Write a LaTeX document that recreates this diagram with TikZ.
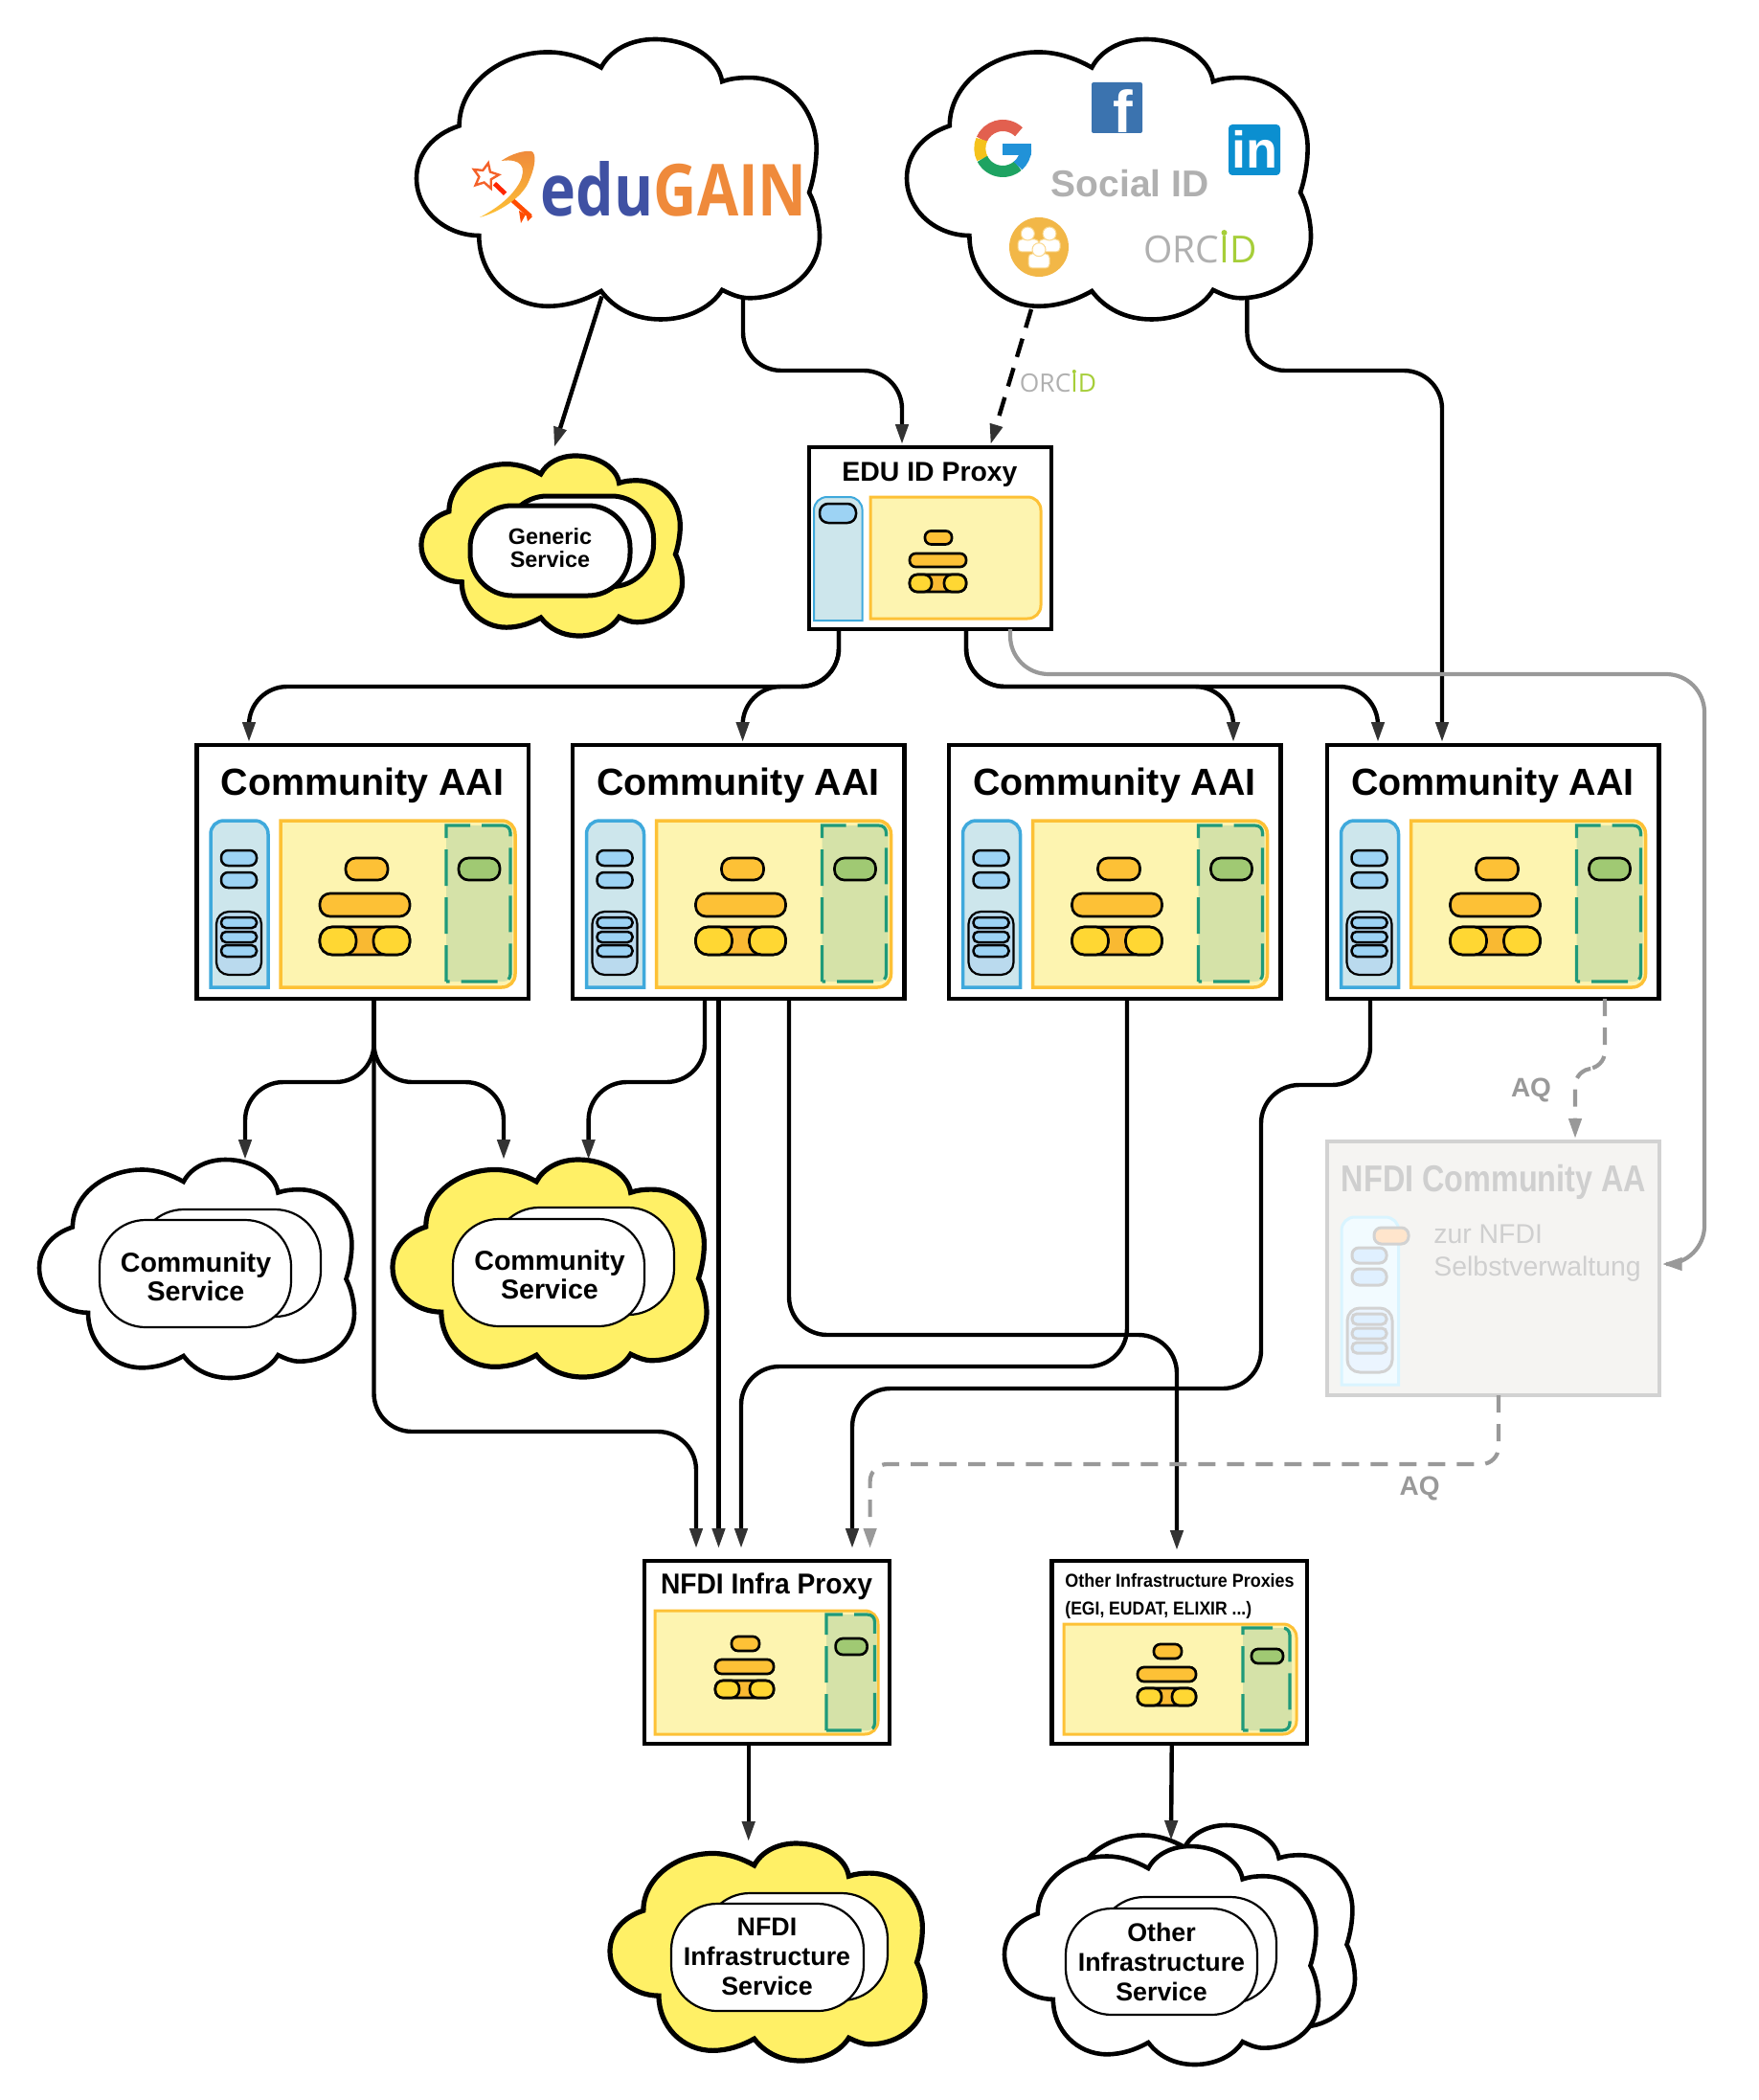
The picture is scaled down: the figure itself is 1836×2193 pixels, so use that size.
\documentclass[tikz,border=0pt]{standalone}
\usepackage{fontspec}
\setmainfont{Liberation Sans}
\newfontfamily\opensans{Open Sans}
\usetikzlibrary{arrows.meta,shapes.geometric}
\definecolor{cblue}{HTML}{3FA9DC}\definecolor{cbluefill}{HTML}{CDE6EC}\definecolor{cbluedeep}{HTML}{BADAEE}
\definecolor{cpill}{HTML}{9DD3F4}\definecolor{cyel}{HTML}{FDC136}\definecolor{cyelfill}{HTML}{FDF4B0}
\definecolor{ccyl}{HTML}{FFD733}\definecolor{cmid}{HTML}{F9B932}\definecolor{cgrn}{HTML}{1F9A7A}
\definecolor{cgrnfill}{HTML}{D5E2A8}\definecolor{cgrnpill}{HTML}{A0C973}\definecolor{ccloud}{HTML}{FFF066}
\definecolor{cfade}{HTML}{D2D2D2}\definecolor{cfadefill}{HTML}{F5F4F2}\definecolor{cfadetext}{HTML}{CFCFCF}
\definecolor{cgrey}{HTML}{999999}\definecolor{csocial}{HTML}{B0B0B0}\definecolor{corc}{HTML}{A6CE39}
\definecolor{cedu}{HTML}{3F51A3}\definecolor{cgain}{HTML}{EF8A3B}
\tikzset{
  ghost/.style={anchor=north west,inner sep=0pt,outer sep=0pt},
  framebox/.style={ghost,draw=black,line width=2.4pt,fill=white},
  fadebox/.style={ghost,draw=cfade,line width=2.3pt,fill=cfadefill},
  conn/.style={line width=2.2pt,rounded corners=20pt,-{Stealth[length=10.5pt,width=6.5pt,inset=0pt,color=black!80]}},
  dconn/.style={conn,line width=2.2pt,dash pattern=on 10pt off 6pt},
  gconn/.style={conn,line width=2.1pt,draw=cgrey,-{Stealth[length=10.5pt,width=6.5pt,inset=0pt,color=cgrey]}},
  gdconn/.style={gconn,dash pattern=on 9pt off 6pt,rounded corners=9pt},
  pblue/.style={draw=black,fill=cpill,line width=1.25pt},
  pyel/.style={draw=black,fill=cyel,line width=1.35pt},
  pcyl/.style={draw=black,fill=ccyl,line width=1.35pt},
  pmid/.style={draw=black,fill=cmid,line width=1.35pt},
  pgrn/.style={draw=black,fill=cgrnpill,line width=1.35pt},
  pfade/.style={draw=cfade,fill=#1,line width=1.5pt},
  cloudw/.style={draw=black,fill=white,line width=2.3pt},
  cloudy/.style={draw=black,fill=ccloud,line width=2.6pt},
  docthin/.style={ghost,draw=black,fill=white,line width=1.1pt,rounded corners=24pt},
  docthick/.style={ghost,draw=black,fill=white,line width=2.5pt,rounded corners=22pt},
  svctext/.style={inner sep=0pt,align=center,font=\fontsize{14.3}{15}\selectfont\bfseries},
  svcsmall/.style={inner sep=0pt,align=center,font=\fontsize{11.7}{12}\selectfont\bfseries},
  svcwide/.style={inner sep=0pt,align=center,font=\fontsize{13.4}{15.5}\selectfont\bfseries},
  title/.style={inner sep=0pt,anchor=base,font=\fontsize{19.7}{20}\selectfont\bfseries},
  aqlabel/.style={inner sep=0pt,text=cgrey,font=\fontsize{14}{15}\selectfont\bfseries},
}
% pill: x1 y1 x2 y2 style
\newcommand\pill[5]{%
  \pgfmathsetmacro\prad{min((#3)-(#1),(#4)-(#2))*0.45*0.5}%
  \draw[#5,rounded corners=\prad pt] (#1,#2) rectangle (#3,#4);}
\newcommand\framenode[6]{\node[#6,minimum width={(#4-#2)*0.5pt},minimum height={(#5-#3)*0.5pt}] (#1) at (#2,#3) {};}
% cloud: name x1 y1 x2 y2 style
\newcommand\cloudat[6]{%
  \node[ghost,minimum width={(#4-#2)*0.5pt},minimum height={(#5-#3)*0.5pt}] (#1) at (#2,#3) {};
  \pgfmathsetmacro\cw{(#4-#2)*0.5}\pgfmathsetmacro\ch{(#5-#3)*0.5}%
  \draw[#6,shift={(#2,#3)},x=\cw pt,y=-\ch pt]
   (.106,.309) .. controls (.106,.16) and (.21,.046) .. (.326,.046) .. controls (.375,.046) and (.42,.07) .. (.458,.101)
   .. controls (.48,.04) and (.53,0) .. (.591,0) .. controls (.68,0) and (.75,.07) .. (.758,.151)
   .. controls (.78,.14) and (.80,.137) .. (.826,.137) .. controls (.92,.137) and (.992,.25) .. (.992,.389) .. controls (.992,.44) and (.985,.50) .. (.974,.547)
   .. controls (.99,.59) and (1,.65) .. (1,.705) .. controls (1,.83) and (.92,.924) .. (.826,.924) .. controls (.80,.924) and (.78,.91) .. (.758,.895)
   .. controls (.73,.96) and (.67,1) .. (.606,1) .. controls (.54,1) and (.49,.96) .. (.458,.899)
   .. controls (.42,.93) and (.375,.953) .. (.326,.953) .. controls (.23,.953) and (.155,.84) .. (.155,.701)
   .. controls (.07,.70) and (0,.61) .. (0,.496) .. controls (0,.41) and (.04,.34) .. (.106,.309) -- cycle;}
% panels: x1 y1 x2 y2 style fill
\newcommand\leftpanel[6]{\draw[#5,fill=#6] (#1,#4) -- (#1,#2+14) .. controls (#1,#2+6) and (#1+6,#2) .. (#1+14,#2) -- (#3-14,#2) .. controls (#3-6,#2) and (#3,#2+6) .. (#3,#2+14) -- (#3,#4) -- cycle;}
\newcommand\rightpanel[6]{\draw[#5,fill=#6] (#1,#2) -- (#3-14,#2) .. controls (#3-6,#2) and (#3,#2+6) .. (#3,#2+14) -- (#3,#4-14) .. controls (#3,#4-6) and (#3-6,#4) .. (#3-14,#4) -- (#1,#4) -- cycle;}
\newcommand\greenpanel[4]{%
  \fill[cgrnfill] (#1,#2) -- (#3-8,#2) .. controls (#3-3,#2) and (#3+2,#2+3) .. (#3+2,#2+8) -- (#3+2,#4-8) .. controls (#3+2,#4-3) and (#3-3,#4) .. (#3-8,#4) -- (#1,#4) -- cycle;
  \draw[cgrn,line width=1.6pt,dash pattern=on 19pt off 6pt] (#1,#4) -- (#1,#2) -- (#3-8,#2) .. controls (#3-3,#2) and (#3,#2+3) .. (#3,#2+8) -- (#3,#4-8) .. controls (#3,#4-3) and (#3-3,#4) .. (#3-8,#4) -- (#1,#4);}
% cylinder x1 y1 x2 y2 endwidth
\newcommand\cyl[5]{%
  \pill{#1}{#2}{#3}{#4}{pmid}
  \pill{#1}{#2}{#1+#5}{#4}{pcyl}
  \pill{#3-#5}{#2}{#3}{#4}{pcyl}}
\newcommand\aaipanel{%
  \leftpanel{220}{857}{280}{1031}{draw=cblue,line width=1.75pt}{cbluefill}
  \rightpanel{293}{857}{538}{1031}{draw=cyel,line width=1.75pt}{cyelfill}
  \greenpanel{466}{862}{533}{1025}
  \pill{231}{888}{268}{904}{pblue}
  \pill{231}{911}{268}{927}{pblue}
  \draw[draw=black,fill=cbluedeep,line width=1.1pt,rounded corners=6.5pt] (226,952) rectangle (273,1018);
  \pill{231}{958}{268}{969}{pblue}
  \pill{231}{973}{268}{984}{pblue}
  \pill{231}{987}{268}{999}{pblue}
  \pill{361}{896}{405}{919}{pyel}
  \pill{334}{933}{428}{957}{pyel}
  \cyl{334}{968}{428}{997}{38}
  \pill{479}{896}{522}{919}{pgrn}}
\newcommand\miniproxy[2]{%
  \begin{scope}[shift={(#1,#2)}]
  \pill{764}{1709}{793}{1724}{pyel}
  \pill{747}{1733}{808}{1748}{pyel}
  \cyl{747}{1755}{808}{1773}{25}
  \end{scope}}
\begin{document}
\begin{tikzpicture}[x=0.5pt,y=-0.5pt]
\path[use as bounding box] (0,0) rectangle (1836,2193);
% ---------- clouds
\cloudat{edugain}{435}{41}{856}{333.5}{cloudw}
\cloudat{social}{947}{41}{1369}{333.5}{cloudw}
\cloudat{genericc}{440}{476}{712.5}{664}{cloudy}
\cloudat{csw}{41}{1211}{370}{1439}{cloudw}
\cloudat{csy}{410}{1211}{738}{1438}{cloudy}
\cloudat{nfdic}{637}{1925}{966}{2152}{cloudy}
\cloudat{otherb}{1087}{1906}{1415}{2134}{cloudw}
\cloudat{otherc}{1049}{1928}{1377}{2156}{cloudw}
% ---------- eduGAIN logo
\node[anchor=base west,inner sep=0pt] (edutext) at (564.5,226)
  {\scalebox{.835}[1]{\fontsize{37.5}{38}\opensans\bfseries\textcolor{cedu}{edu}\textcolor{cgain}{GAIN}}};
\draw[line width=2.4pt,color=red!70!orange] (516.5,191.7) -- (527.6,202.3);
\draw[line width=2.4pt,color=orange!60!red] (534,208) -- (554,226);
\fill[orange!60!red] (542,220) -- (549,224) -- (544,233) -- cycle;
\fill[orange!60!red] (549,222) -- (556,226) -- (551,231) -- cycle;
\node[star,star points=5,star point ratio=2.1,draw=cgain!70!red,fill=white,line width=1.2pt,minimum size=14pt,inner sep=0pt,rotate=-12] (wandstar) at (507,184) {};
\path[top color=cgain,bottom color=cyel,draw=none] (523.5,168) .. controls (535,160) and (548,157) .. (555,158) .. controls (560,160) and (560,172) .. (552,190) .. controls (545,207) and (520,222) .. (501,227) .. controls (520,217) and (535,205) .. (543,190) .. controls (550,175) and (545,165) .. (523.5,168) -- cycle;
% ---------- social logos
\node[ghost,fill={rgb,255:red,59;green,115;blue,175},rounded corners=1pt,minimum width=26.5pt,minimum height=26.5pt] (fbbox) at (1140,86) {};
\node[anchor=base,inner sep=0pt,text=white,font=\fontsize{31}{31}\selectfont\bfseries] (fbf) at (1173,139) {f};
\node[ghost,fill={rgb,255:red,11;green,143;blue,208},rounded corners=2pt,minimum width=27pt,minimum height=26.5pt] (libox) at (1283,130) {};
\node[anchor=base,inner sep=0pt,text=white,font=\fontsize{27}{27}\selectfont\bfseries] (litext) at (1310.5,176) {in};
\node[anchor=base,inner sep=0pt,text=csocial,font=\fontsize{19.5}{20}\selectfont\bfseries] (socialid) at (1180,206) {Social ID};
\begin{scope}[shift={(1047.3,155)},y=0.5pt,line width=6pt]
  \draw[color={rgb,255:red,226;green,96;blue,79}] (46:24) arc[start angle=46,end angle=157,radius=24];
  \draw[color={rgb,255:red,245;green,194;blue,27}] (157:24) arc[start angle=157,end angle=207,radius=24];
  \draw[color={rgb,255:red,30;green,163;blue,98}] (207:24) arc[start angle=207,end angle=311,radius=24];
  \draw[color={rgb,255:red,33;green,146;blue,216}] (311:24) arc[start angle=311,end angle=358,radius=24];
  \fill[color={rgb,255:red,33;green,146;blue,216}] (0,5) rectangle (30,-7);
\end{scope}
\node[circle,fill={rgb,255:red,242;green,183;blue,71},minimum size=31pt,inner sep=0pt] (groupicon) at (1085,258) {};
\begin{scope}[fill=white,draw={rgb,255:red,250;green,215;blue,140},line width=.5pt]
  \filldraw[rounded corners=2pt] (1063,250) rectangle (1085,263);
  \filldraw (1073.3,244) circle (7);
  \filldraw[rounded corners=2pt] (1085,250) rectangle (1107,263);
  \filldraw (1096,244) circle (7);
  \filldraw[rounded corners=2pt] (1074,265) rectangle (1096,280);
  \filldraw (1085,260.7) circle (7);
\end{scope}
\node[anchor=base west,inner sep=0pt,font=\fontsize{19.5}{20}\opensans] (orcid1) at (1194,275) {\textcolor{csocial}{ORC}\textcolor{corc}{ID}};
\fill[corc] (1278.5,243) circle (3);
\node[anchor=base west,inner sep=0pt,font=\fontsize{13.2}{14}\opensans] (orcid2) at (1064.5,409) {\textcolor{csocial}{ORC}\textcolor{corc}{ID}};
\fill[corc] (1121.8,388) circle (2);
% ---------- services
\node[docthick,minimum width=77.5pt,minimum height=47.3pt] (genericb) at (527.5,518) {};
\node[docthick,minimum width=83.5pt,minimum height=47pt] (generic) at (491,528) {};
\node[svcsmall] (generict) at (574.5,572.5) {Generic\\Service};
\node[docthin,minimum width=95.5pt,minimum height=56pt] (cswb) at (144,1263) {};
\node[docthin,minimum width=100pt,minimum height=56pt] (cswf) at (104,1274) {};
\node[svctext] (cswt) at (204.5,1333) {Community\\Service};
\node[docthin,minimum width=94.5pt,minimum height=56pt] (csyb) at (515,1261) {};
\node[docthin,minimum width=100pt,minimum height=56pt] (csyf) at (473,1273) {};
\node[svctext] (csyt) at (574,1331) {Community\\Service};
\node[docthin,minimum width=96pt,minimum height=56pt] (nfdib) at (735,1977) {};
\node[docthin,minimum width=100.5pt,minimum height=56pt] (nfdif) at (701,1988) {};
\node[svcwide] (nfdit) at (801,2043) {NFDI\\Infrastructure\\Service};
\node[docthin,minimum width=93pt,minimum height=55.5pt] (othb) at (1147,1981) {};
\node[docthin,minimum width=100pt,minimum height=55.5pt] (othf) at (1113,1993) {};
\node[svcwide] (otht) at (1213,2049) {Other\\Infrastructure\\Service};
% ---------- EDU ID proxy
\framenode{edu}{845}{467}{1098}{657}{framebox}
\node[anchor=base,inner sep=0pt,font=\fontsize{14.2}{15}\selectfont\bfseries] (edutitle) at (971,502) {EDU ID Proxy};
\leftpanel{850}{519}{900.6}{648}{draw=cblue,line width=1pt}{cbluefill}
\rightpanel{909}{519}{1087}{646}{draw=cyel,line width=1.5pt}{cyelfill}
\pill{856}{526}{894}{546}{pblue}
\pill{966}{554.5}{994}{568.4}{pyel}
\pill{950}{578}{1009}{592}{pyel}
\cyl{950}{600}{1009}{618}{23}
% ---------- Community AAI boxes
\framenode{aaia}{205.5}{778}{552}{1043}{framebox}
\framenode{aaib}{598}{778}{944.5}{1043}{framebox}
\framenode{aaic}{991}{778}{1337.5}{1043}{framebox}
\framenode{aaid}{1386}{778}{1732.5}{1043}{framebox}
\node[title] (ta) at (378.5,830) {Community AAI};
\node[title] (tb) at (771,830) {Community AAI};
\node[title] (tc) at (1164,830) {Community AAI};
\node[title] (td) at (1559,830) {Community AAI};
\aaipanel
\begin{scope}[shift={(392.5,0)}]\aaipanel\end{scope}
\begin{scope}[shift={(785.5,0)}]\aaipanel\end{scope}
\begin{scope}[shift={(1180.5,0)}]\aaipanel\end{scope}
% ---------- NFDI community AA
\framenode{nca}{1386}{1192}{1733}{1457}{fadebox}
\node[anchor=base,inner sep=0pt,text=cfadetext] (ncat) at (1560,1244) {\scalebox{.83}[1]{\fontsize{19.5}{20}\selectfont\bfseries NFDI Community AA}};
\leftpanel{1401}{1271}{1460.7}{1446}{draw=blue!30!cyan!15,line width=1.5pt}{blue!30!cyan!5}
\pill{1435}{1282}{1471}{1299}{pfade={orange!20}}
\pill{1412}{1303}{1448}{1319}{pfade={blue!50!cyan!12}}
\pill{1412}{1325}{1448}{1342}{pfade={blue!50!cyan!12}}
\draw[pfade={blue!50!cyan!8},rounded corners=6.5pt] (1407,1366) rectangle (1454,1433);
\pill{1412}{1372}{1448}{1383}{pfade={blue!50!cyan!12}}
\pill{1412}{1387}{1448}{1398}{pfade={blue!50!cyan!12}}
\pill{1412}{1402}{1448}{1413}{pfade={blue!50!cyan!12}}
\node[anchor=base west,inner sep=0pt,text=cfadetext,font=\fontsize{14.2}{17}\selectfont] (ncaa) at (1497,1298) {zur NFDI};
\node[anchor=base west,inner sep=0pt,text=cfadetext,font=\fontsize{14.2}{17}\selectfont] (ncab) at (1497,1332) {Selbstverwaltung};
% ---------- infra proxies
\framenode{infra}{673}{1630}{929}{1821}{framebox}
\node[anchor=base,inner sep=0pt] (infrat) at (800.5,1664) {\scalebox{.94}[1]{\fontsize{15}{16}\selectfont\bfseries NFDI Infra Proxy}};
\rightpanel{684}{1682}{917}{1811}{draw=cyel,line width=1.5pt}{cyelfill}
\greenpanel{863}{1686}{913.5}{1807}
\miniproxy{0}{0}
\pill{872.6}{1711}{905.6}{1728}{pgrn}
\framenode{other}{1098.5}{1630}{1365}{1821}{framebox}
\node[anchor=base west,inner sep=0pt] (othert) at (1112,1657) {\scalebox{.92}[1]{\fontsize{9.75}{10}\selectfont\bfseries Other Infrastructure Proxies}};
\node[anchor=base west,inner sep=0pt] (othert2) at (1112,1686) {\scalebox{.9}[1]{\fontsize{9.75}{10}\selectfont\bfseries (EGI, EUDAT, ELIXIR ...)}};
\rightpanel{1111}{1696}{1354}{1811}{draw=cyel,line width=1.5pt}{cyelfill}
\greenpanel{1298}{1700}{1347}{1807}
\miniproxy{441}{8}
\pill{1307}{1722}{1340}{1737}{pgrn}
% ---------- connectors
\draw[conn,rounded corners=0pt] ([shift={(-17,-24)}]edugain.south) -- ([shift={(2.5,-9)}]genericc.north);
\draw[conn] ([shift={(130.5,-22.5)}]edugain.south) -- (776,387) -- (942,387) -- ([shift={(-29.5,-3)}]edu.north);
\draw[dconn,rounded corners=0pt] ([shift={(-81,-10.5)}]social.south) -- ([shift={(63,-3)}]edu.north);
\draw[conn] ([shift={(144.4,-21.5)}]social.south) -- (1302.4,387) -- (1506,387) -- ([shift={(-53.25,-3)}]aaid.north);
\draw[conn] ([shift={(-95.5,0)}]edu.south) -- (876,717) -- (260,717) -- ([shift={(-118.75,-3)}]aaia.north);
\draw[conn] ([shift={(-95.5,0)}]edu.south) -- (876,717) -- (775.6,717) -- ([shift={(4.35,-3)}]aaib.north);
\draw[conn] ([shift={(37.5,0)}]edu.south) -- (1009,717) -- (1288,717) -- ([shift={(123.75,-3)}]aaic.north);
\draw[conn] ([shift={(37.5,0)}]edu.south) -- (1009,717) -- (1439,717) -- ([shift={(-120.25,-3)}]aaid.north);
\draw[gconn] ([shift={(83.5,0)}]edu.south) -- (1055,704) -- (1780,704) -- (1780,1320) -- ([shift={(2.7,-4.5)}]nca.east);
\draw[conn] ([shift={(11.75,0)}]aaia.south) -- (390.5,1130) -- (256,1130) -- ([shift={(50.5,0)}]csw.north);
\draw[conn] ([shift={(11.75,0)}]aaia.south) -- (390.5,1130) -- (526,1130) -- ([shift={(-48,0)}]csy.north);
\draw[conn] ([shift={(11.75,0)}]aaia.south) -- (390.5,1495) -- (727,1495) -- ([shift={(-74,-13)}]infra.north);
\draw[conn] ([shift={(-35.25,0)}]aaib.south) -- (736,1130) -- (614.6,1130) -- ([shift={(40.6,0)}]csy.north);
\draw[conn,rounded corners=0pt] ([shift={(-20.75,0)}]aaib.south) -- ([shift={(-20.75,-13)}]infra.north -| aaib.south);
\draw[conn] ([shift={(52.75,0)}]aaib.south) -- (824,1394) -- (1229,1394) -- ([shift={(-2.75,-11)}]other.north);
\draw[conn] ([shift={(12.75,0)}]aaic.south) -- (1177,1427) -- (774,1427) -- ([shift={(-27,-13)}]infra.north);
\draw[conn] ([shift={(-128.25,0)}]aaid.south) -- (1431,1133) -- (1317,1133) -- (1317,1450) -- (890,1450) -- ([shift={(89,-13)}]infra.north);
\draw[gdconn] ([shift={(116.75,0)}]aaid.south) -- (1676,1116) -- (1645,1116) -- ([shift={(85.5,-3)}]nca.north);
\draw[gdconn] ([shift={(5.5,0)}]nca.south) -- (1565,1529) -- (908.6,1529) -- ([shift={(107.6,-13)}]infra.north);
\draw[conn] ([shift={(-19.3,0)}]infra.south) -- ([shift={(-19.8,-2)}]nfdic.north);
\draw[conn] ([shift={(-8,0)}]other.south) -- ([shift={(10,-6)}]otherc.north);
\node[aqlabel] (aq1) at (1599,1138) {AQ};
\node[aqlabel] (aq2) at (1482.6,1554) {AQ};
\end{tikzpicture}
\end{document}
